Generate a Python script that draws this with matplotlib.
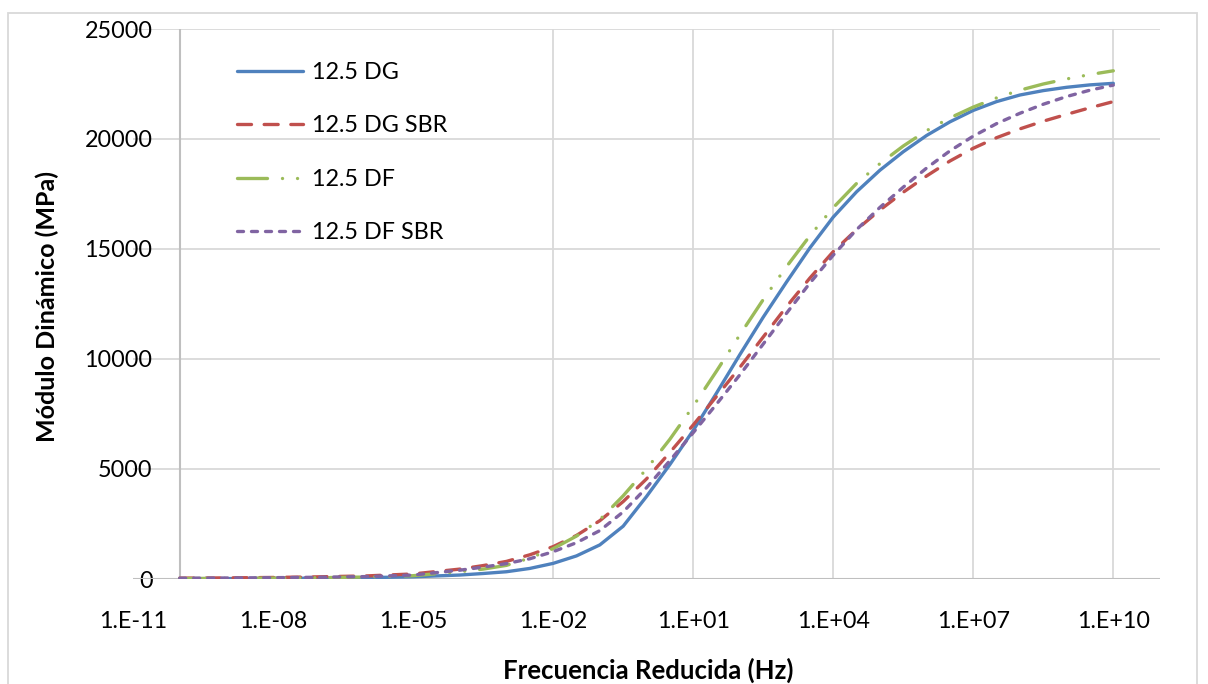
import matplotlib
matplotlib.use("Agg")
import matplotlib.pyplot as plt
from matplotlib.patches import Rectangle

plt.rcParams['font.family'] = ['Lato', 'DejaVu Sans']

# frecuencia reducida (Hz) and modulo dinamico (MPa)
freq = [1e-10, 1e-9, 1e-8, 1e-7, 1e-6, 1e-5, 1e-4, 10**-3.5, 1e-3, 10**-2.5, 1e-2, 10**-1.5,
        1e-1, 10**-0.5, 1e0, 10**0.5, 1e1, 10**1.5, 1e2, 10**2.5, 1e3, 10**3.5, 1e4, 10**4.5,
        1e5, 10**5.5, 1e6, 10**6.5, 1e7, 10**7.5, 1e8, 10**8.5, 1e9, 10**9.5, 1e10]

dg = [15, 20, 30, 40, 60, 100, 180, 250, 330, 480, 710, 1050,
      1550, 2400, 3750, 5200, 6750, 8450, 10200, 11900, 13500, 15050, 16450, 17600,
      18580, 19420, 20160, 20780, 21300, 21700, 22000, 22200, 22350, 22460, 22530]
dg_sbr = [40, 50, 70, 100, 140, 230, 450, 610, 800, 1100, 1470, 1980,
          2650, 3520, 4550, 5750, 7000, 8300, 9620, 11000, 12380, 13680, 14880, 15880,
          16770, 17580, 18320, 19000, 19580, 20060, 20460, 20810, 21120, 21420, 21700]
df = [20, 30, 40, 60, 90, 150, 330, 450, 620, 950, 1380, 1950,
      2700, 3780, 5000, 6350, 7850, 9450, 11100, 12700, 14200, 15600, 16880, 17980,
      18880, 19680, 20380, 20960, 21450, 21870, 22220, 22500, 22730, 22930, 23100]
df_sbr = [35, 45, 60, 80, 110, 180, 400, 540, 700, 920, 1240, 1650,
          2200, 3050, 4150, 5380, 6650, 7950, 9280, 10680, 12080, 13450, 14720, 15880,
          16890, 17810, 18680, 19460, 20130, 20700, 21170, 21580, 21930, 22220, 22450]

x_ticks = [1e-11, 1e-8, 1e-5, 1e-2, 1e1, 1e4, 1e7, 1e10]
x_labels = ["1.E-11", "1.E-08", "1.E-05", "1.E-02", "1.E+01", "1.E+04", "1.E+07", "1.E+10"]
y_ticks = [0, 5000, 10000, 15000, 20000, 25000]

W, H = 1208, 684
fig = plt.figure(figsize=(W / 100, H / 100), dpi=100)
ax = fig.add_axes([133 / W, 1 - 579 / H, (1160 - 133) / W, (579 - 29) / H])

ax.set_xscale("log")
ax.set_xlim(1e-11, 1e11)
ax.set_ylim(0, 25000)

grid_c = "#D9D9D9"
axis_c = "#BFBFBF"
ax.yaxis.grid(True, color=grid_c, lw=1.3)
for t in x_ticks[3:]:
    ax.axvline(t, color=grid_c, lw=1.3, zorder=0.5)
ax.axhline(0, color=axis_c, lw=1.5, zorder=1)
ax.axvline(1e-10, color=axis_c, lw=1.5, zorder=1)
ax.set_axisbelow(True)
for s in ax.spines.values():
    s.set_visible(False)

lw = 2.4
common = dict(lw=lw, zorder=3, solid_joinstyle="round", dash_joinstyle="round")
ax.plot(freq, dg, color="#4F81BD", label="12.5 DG", solid_capstyle="round", **common)
ax.plot(freq, dg_sbr, color="#C0504D", label="12.5 DG SBR",
        linestyle=(0, (4.2, 3.8)), dash_capstyle="round", **common)
ax.plot(freq, df, color="#9BBB59", label="12.5 DF",
        linestyle=(0, (9, 4.5, 0.01, 4.5, 0.01, 4.5)), dash_capstyle="round", **common)
ax.plot(freq, df_sbr, color="#8064A2", label="12.5 DF SBR",
        linestyle=(0, (1.8, 2.4)), dash_capstyle="round", **common)

fs = 16.8
ax.set_xticks(x_ticks)
ax.set_xticklabels(x_labels)
ax.xaxis.set_minor_locator(matplotlib.ticker.NullLocator())
ax.set_yticks(y_ticks)
ax.tick_params(axis="both", length=0, labelsize=fs, colors="black")
ax.tick_params(axis="x", pad=23)
ax.tick_params(axis="y", pad=-14)

fig.text(648 / W, 1 - 670 / H, "Frecuencia Reducida (Hz)", ha="center", va="center",
         fontsize=18.5, fontweight="bold")
fig.text(47 / W, 1 - 307 / H, "Módulo Dinámico (MPa)", ha="center", va="center",
         rotation=90, fontsize=18, fontweight="bold")

ax.legend(loc="upper left", bbox_to_anchor=(237 / W, 1 - 62 / H), bbox_transform=fig.transFigure,
          frameon=False, fontsize=fs, handlelength=2.83, handletextpad=0.39,
          labelspacing=1.39, borderpad=0, borderaxespad=0)

fig.patches.append(Rectangle((8 / W, -0.05), (1197 - 8) / W, 1.05 - 13 / H,
                             transform=fig.transFigure, fill=False, edgecolor=grid_c, lw=1.3))

fig.savefig("out.png", dpi=100)
